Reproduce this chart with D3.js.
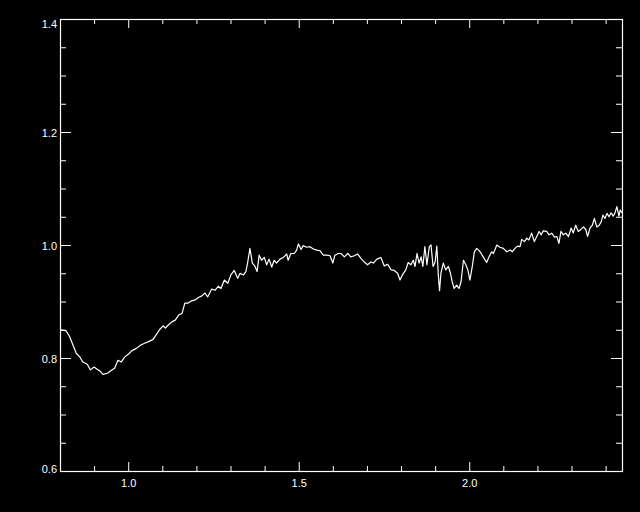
<!DOCTYPE html>
<html>
<head>
<meta charset="utf-8">
<script src="https://cdn.jsdelivr.net/npm/d3@7"></script>
<style>
  html, body { margin: 0; padding: 0; background: #000; }
  svg { display: block; }
  .axis text { font-family: "Liberation Sans", Arial, sans-serif; font-size: 11px; fill: #fff; }
  .axis line { stroke: #fff; stroke-width: 1; }
  .axis path { display: none; }
</style>
</head>
<body>
<svg id="chart" width="640" height="512"></svg>
<script>
// ---- data ----
const wavelength = [
  0.802,0.818,0.828,0.838,0.848,0.858,0.867,0.880,0.889,0.900,0.909,0.919,0.926,0.939,0.950,0.960,0.970,0.980,0.990,
  1.001,1.011,1.024,1.037,1.048,1.060,1.073,1.082,1.092,1.102,1.109,1.117,1.128,1.138,1.148,1.158,1.166,1.175,1.185,1.197,
  1.206,1.216,1.225,1.233,1.245,1.255,1.264,1.272,1.282,1.292,1.301,1.311,1.321,1.328,1.338,1.345,1.350,1.357,1.364,1.372,
  1.378,1.384,1.391,1.399,1.406,1.413,1.421,1.428,1.435,1.445,1.455,1.465,1.469,1.477,1.487,1.494,1.499,1.507,1.513,1.523,
  1.533,1.543,1.553,1.562,1.572,1.582,1.592,1.600,1.606,1.616,1.624,1.634,1.644,1.653,1.663,1.673,1.683,1.692,1.702,1.712,
  1.719,1.729,1.741,1.751,1.761,1.771,1.780,1.790,1.797,1.804,1.814,1.821,1.829,1.836,1.841,1.847,1.853,1.859,1.864,1.870,
  1.876,1.883,1.888,1.894,1.900,1.905,1.909,1.913,1.917,1.924,1.931,1.939,1.945,1.950,1.956,1.963,1.970,1.976,1.983,1.990,
  1.996,2.002,2.009,2.015,2.022,2.029,2.035,2.041,2.051,2.058,2.066,2.071,2.081,2.090,2.100,2.110,2.120,2.126,2.134,2.142,
  2.149,2.154,2.162,2.169,2.175,2.183,2.191,2.198,2.205,2.211,2.217,2.227,2.234,2.242,2.250,2.257,2.263,2.269,2.276,2.283,
  2.291,2.299,2.305,2.312,2.320,2.328,2.335,2.342,2.347,2.354,2.361,2.367,2.374,2.381,2.387,2.392,2.398,2.404,2.410,2.416,
  2.422,2.427,2.433,2.439,2.443,2.447
];
const flux = [
  0.850,0.848,0.838,0.823,0.808,0.802,0.793,0.789,0.779,0.784,0.780,0.776,0.771,0.773,0.778,0.782,0.796,0.793,0.802,
  0.807,0.813,0.817,0.823,0.826,0.829,0.833,0.841,0.850,0.857,0.853,0.858,0.864,0.867,0.876,0.879,0.897,0.897,0.901,0.903,
  0.907,0.910,0.915,0.908,0.922,0.920,0.927,0.923,0.938,0.932,0.947,0.955,0.941,0.950,0.947,0.953,0.968,0.994,0.968,0.962,
  0.953,0.982,0.973,0.978,0.965,0.975,0.961,0.973,0.968,0.975,0.978,0.984,0.973,0.985,0.985,0.991,1.002,0.992,0.999,0.996,
  0.997,0.993,0.991,0.990,0.982,0.982,0.981,0.968,0.982,0.985,0.985,0.979,0.985,0.979,0.981,0.984,0.976,0.970,0.965,0.970,
  0.968,0.975,0.978,0.963,0.966,0.956,0.955,0.950,0.938,0.947,0.956,0.969,0.965,0.973,0.962,0.985,0.968,0.979,0.962,0.997,
  0.965,0.997,1.000,0.962,0.970,0.998,0.950,0.919,0.950,0.968,0.956,0.962,0.950,0.935,0.923,0.929,0.923,0.935,0.973,0.965,
  0.956,0.938,0.962,0.988,0.994,0.990,0.985,0.979,0.969,0.979,0.988,0.985,1.000,0.996,0.994,0.988,0.991,0.988,0.994,0.998,
  0.997,1.010,1.006,1.012,1.009,1.021,1.006,1.015,1.024,1.018,1.025,1.024,1.018,1.021,1.014,1.015,1.003,1.024,1.018,1.021,
  1.015,1.030,1.021,1.035,1.024,1.028,1.032,1.027,1.015,1.030,1.035,1.047,1.032,1.035,1.041,1.053,1.047,1.056,1.050,1.057,
  1.051,1.056,1.068,1.051,1.062,1.057
];
const xDomain = [0.8, 2.448];
const yDomain = [0.6, 1.4];
const xMajorTicks = [1.0, 1.5, 2.0];
const xMinorTicks = [0.9, 1.1, 1.2, 1.3, 1.4, 1.6, 1.7, 1.8, 1.9, 2.1, 2.2, 2.3, 2.4];
const yMajorTicks = [0.6, 0.8, 1.0, 1.2, 1.4];
const yMinorTicks = [0.65, 0.7, 0.75, 0.85, 0.9, 0.95, 1.05, 1.1, 1.15, 1.25, 1.3, 1.35];

// ---- layout ----
const padL = 60, padR = 622, padT = 19, padB = 471;
const svg = d3.select("#chart");
svg.append("rect").attr("width", 640).attr("height", 512).attr("fill", "#000");

const x = d3.scaleLinear().domain(xDomain).range([padL, padR]);
const y = d3.scaleLinear().domain(yDomain).range([padB, padT]);
const fmt = d3.format(".1f");

// bottom axis (major with labels, minor)
svg.append("g").attr("class", "axis").attr("transform", `translate(0,${padB})`)
  .call(d3.axisBottom(x).tickValues(xMajorTicks).tickSize(-9).tickSizeOuter(0).tickPadding(8).tickFormat(fmt));
svg.append("g").attr("class", "axis").attr("transform", `translate(0,${padB})`)
  .call(d3.axisBottom(x).tickValues(xMinorTicks).tickSize(-5).tickSizeOuter(0).tickFormat(""));
// top axis
svg.append("g").attr("class", "axis").attr("transform", `translate(0,${padT})`)
  .call(d3.axisTop(x).tickValues(xMajorTicks).tickSize(-9).tickSizeOuter(0).tickFormat(""));
svg.append("g").attr("class", "axis").attr("transform", `translate(0,${padT})`)
  .call(d3.axisTop(x).tickValues(xMinorTicks).tickSize(-5).tickSizeOuter(0).tickFormat(""));
// left axis
const gl = svg.append("g").attr("class", "axis").attr("transform", `translate(${padL},0)`)
  .call(d3.axisLeft(y).tickValues(yMajorTicks).tickSize(-11).tickSizeOuter(0).tickPadding(3).tickFormat(fmt));
gl.selectAll("text").attr("dy", null).attr("y", d => Math.min(Math.max(y(d) + 4.5, 27), 472) - y(d));
svg.append("g").attr("class", "axis").attr("transform", `translate(${padL},0)`)
  .call(d3.axisLeft(y).tickValues(yMinorTicks).tickSize(-6).tickSizeOuter(0).tickFormat(""));
// right axis
svg.append("g").attr("class", "axis").attr("transform", `translate(${padR},0)`)
  .call(d3.axisRight(y).tickValues(yMajorTicks).tickSize(-11).tickSizeOuter(0).tickFormat(""));
svg.append("g").attr("class", "axis").attr("transform", `translate(${padR},0)`)
  .call(d3.axisRight(y).tickValues(yMinorTicks).tickSize(-6).tickSizeOuter(0).tickFormat(""));

// frame
svg.append("rect").attr("x", padL + 0.5).attr("y", padT + 0.5)
  .attr("width", padR - padL).attr("height", padB - padT)
  .attr("fill", "none").attr("stroke", "#fff").attr("stroke-width", 1.2);

// spectrum line
const pts = wavelength.map((w, i) => [w, flux[i]]);
svg.append("path").datum(pts)
  .attr("fill", "none").attr("stroke", "#fff").attr("stroke-width", 1.2)
  .attr("stroke-linejoin", "round")
  .attr("d", d3.line().x(d => x(d[0])).y(d => y(d[1])));
</script>
</body>
</html>
